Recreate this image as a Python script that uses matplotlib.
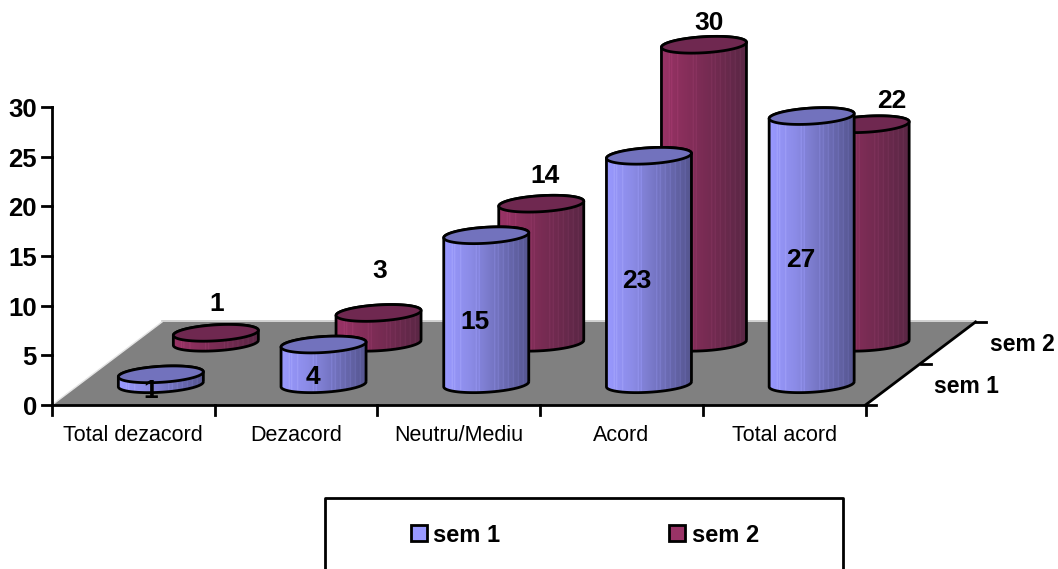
import matplotlib
matplotlib.use('Agg')
import matplotlib.pyplot as plt
import numpy as np
from matplotlib.colors import to_rgb
from matplotlib.patches import PathPatch, Polygon, Rectangle
from matplotlib.path import Path

plt.rcParams['font.family'] = ['Liberation Sans', 'DejaVu Sans']

# dados
categorias = ['Total dezacord', 'Dezacord', 'Neutru/Mediu', 'Acord', 'Total acord']
series = ['sem 1', 'sem 2']
sem1 = [1, 4, 15, 23, 27]
sem2 = [1, 3, 14, 30, 22]
ticks_y = [0, 5, 10, 15, 20, 25, 30]

# geometria da projecao (pixels)
x0, y0 = 52, 405
larg_cat = 162.7
prof_x, prof_y = 110, 83
k = 298 / 30.0
raio_a, raio_b, incl = 42.5, 8.0, 2.5
lw = 2.0

# deslocamento dos rotulos em relacao ao cilindro
desl_sem1 = [(-10, 12), (-11, 13), (-11, 12), (-12, 11), (-11, 10)]
desl_sem2 = [(1, -29), (1, -42), (4, -28), (5, -22), (25, -23)]
desl_prof = [(68.5, -19), (14.5, 22)]

cores = {
    'sem 1': dict(stops=['#9999ff', '#8c8ce8', '#55558f'], topo='#7272bd', base='#9999ff'),
    'sem 2': dict(stops=['#993366', '#862e5a', '#5a2745'], topo='#6f2850', base='#993366'),
}
listras = [0.1, 0.13, 0.2, 0.38, 0.42, 0.6, 0.64, 0.7, 0.76, 0.82, 0.88, 0.94]


def proj(cat, ser, valor=0.0):
    x = x0 + cat * larg_cat + ser * prof_x
    y = y0 - ser * prof_y - valor * k
    return x, y


def elipse(cx, cy, t):
    return cx + raio_a * np.cos(t), cy + raio_b * np.sin(t) - incl * np.cos(t)


def cilindro(ax, cat, ser, valor, nome):
    s = 0.25 + ser * 0.5
    cx, yb = proj(cat + 0.5, s)
    _, yt = proj(cat + 0.5, s, valor)
    z = 3 + (1 - ser) * 10 + cat * 0.1

    # corpo: frente da elipse de baixo + parte de tras da elipse de cima
    t1 = np.linspace(0, np.pi, 60)
    t2 = np.linspace(np.pi, 2 * np.pi, 60)
    xb, yb2 = elipse(cx, yb, t1)
    xt, yt2 = elipse(cx, yt, t2)
    pts = np.column_stack([np.r_[xb, xt], np.r_[yb2, yt2]])
    pts = np.vstack([pts, pts[0]])
    caminho = Path(pts)

    stops = [to_rgb(c) for c in cores[nome]['stops']]
    u = np.linspace(0, 1, 170)
    grad = np.zeros((1, len(u), 3))
    for i in range(3):
        grad[0, :, i] = np.interp(u, [0, 0.3, 1], [p[i] for p in stops])
    for f in listras:
        grad[0, int(f * 169)] = np.minimum(grad[0, int(f * 169)] * 1.15 + 0.03, 1)
    im = ax.imshow(grad, extent=(cx - raio_a, cx + raio_a, yb + 12, yt - 12), aspect='auto',
                   zorder=z, interpolation='bilinear')
    im.set_clip_path(PathPatch(caminho, transform=ax.transData))
    ax.add_patch(PathPatch(caminho, facecolor='none', edgecolor='black', lw=lw, zorder=z + 0.01))

    t = np.linspace(0, 2 * np.pi, 120)
    xe, ye = elipse(cx, yt, t)
    ax.add_patch(Polygon(np.column_stack([xe, ye]), closed=True, facecolor=cores[nome]['topo'],
                         edgecolor='black', lw=lw, zorder=z + 0.02))
    return cx, yb, yt


fig = plt.figure(figsize=(10.58, 5.69), dpi=100)
ax = fig.add_axes([0, 0, 1, 1])

# piso
cantos = [proj(0, 0), proj(5, 0), proj(5, 1), proj(0, 1)]
ax.add_patch(Polygon(cantos, closed=True, facecolor='#808080', edgecolor='none', zorder=1))
ax.plot([cantos[2][0], cantos[3][0]], [cantos[2][1] - 1, cantos[3][1] - 1], color='#c8c8c8', lw=1.2, zorder=1.5)
ax.plot([cantos[3][0], cantos[0][0]], [cantos[3][1], cantos[0][1]], color='#e4e4e4', lw=1.0, zorder=1.5)

# cilindros: sem 2 atras, sem 1 na frente
for ser, (nome, vals, desl) in reversed(list(enumerate(zip(series, [sem1, sem2], [desl_sem1, desl_sem2])))):
    for cat, v in enumerate(vals):
        cx, yb, yt = cilindro(ax, cat, ser, v, nome)
        dx, dy = desl[cat]
        ypos = (yb + yt) / 2 + dy if ser == 0 else yt + dy
        ax.text(cx + dx, ypos, str(v), ha='center', va='center', fontsize=19, fontweight='bold', zorder=30)

# eixo y
ax.plot([x0, x0], [y0 - 30 * k, y0], color='black', lw=lw, zorder=25)
for t in ticks_y:
    _, yy = proj(0, 0, t)
    ax.plot([x0 - 10, x0], [yy, yy], color='black', lw=lw, zorder=25)
    ax.text(x0 - 15, yy + 3, str(t), ha='right', va='center', fontsize=18.5, fontweight='bold')

# eixo x
ax.plot([x0, x0 + 5 * larg_cat], [y0, y0], color='black', lw=lw, zorder=25)
for i in range(6):
    xx, _ = proj(i, 0)
    ax.plot([xx, xx], [y0, y0 + 10], color='black', lw=lw, zorder=25)
for i, c in enumerate(categorias):
    xx, _ = proj(i + 0.5, 0)
    ax.text(xx, y0 + 30, c, ha='center', va='center', fontsize=15.5)

# eixo de profundidade
ax.plot([cantos[1][0], cantos[2][0]], [cantos[1][1], cantos[2][1]], color='black', lw=lw, zorder=25)
for s in [0, 0.5, 1]:
    xa, ya = proj(5, s)
    ax.plot([xa, xa + 10], [ya, ya], color='black', lw=lw, zorder=25)
for i, s in enumerate(series):
    xa, ya = proj(5, i)
    ax.text(xa + desl_prof[i][0], ya + desl_prof[i][1], s, ha='left', va='center', fontsize=16.5, fontweight='bold')

# legenda
ax.plot([325, 325, 843, 843], [569, 498, 498, 569], color='black', lw=lw)
for xq, xt, s in zip([411, 669], [433, 692], series):
    ax.add_patch(Rectangle((xq, 525), 16, 16, facecolor=cores[s]['base'], edgecolor='black', lw=lw))
    ax.text(xt, 535, s, ha='left', va='center', fontsize=17, fontweight='bold')

ax.set_xlim(0, 1058)
ax.set_ylim(569, 0)
ax.axis('off')
fig.savefig('out.png', dpi=100, facecolor='white')
